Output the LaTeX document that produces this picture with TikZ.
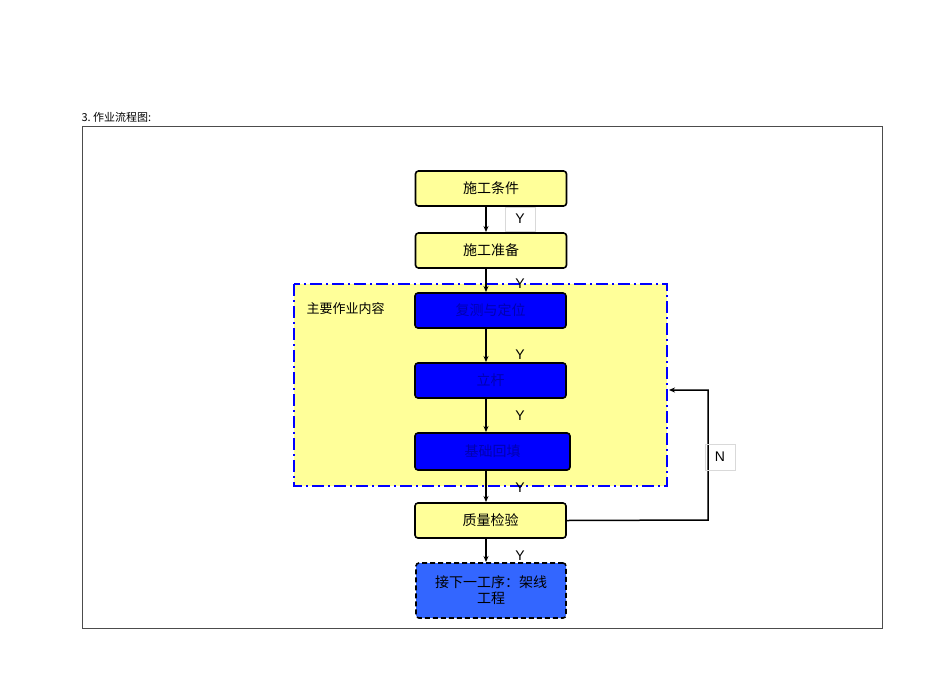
\documentclass[tikz,border=0pt]{standalone}
\usepackage{fontspec}
\setmainfont{Liberation Sans}
\newfontfamily\cjk{Noto Sans CJK SC}
\usetikzlibrary{arrows.meta}
\definecolor{ylw}{HTML}{FFFF99}
\definecolor{bl}{HTML}{0000FF}
\definecolor{bltx}{HTML}{0000B0}
\definecolor{lb}{HTML}{3366FF}
\begin{document}
\begin{tikzpicture}[x=1pt,y=-1pt,
  box/.style={draw=black,line width=1.6pt,rounded corners=3pt,minimum width=151pt,minimum height=35pt,inner sep=0pt,font=\cjk\fontsize{14}{16}\selectfont},
  yb/.style={box,fill=ylw},
  bb/.style={box,fill=bl,text=bltx},
  arr/.style={line width=1.5pt,-{Stealth[length=6pt,width=5pt]}},
  lab/.style={font=\fontsize{14}{16}\selectfont}]
\useasboundingbox (0,0) rectangle (950,672);
\node[anchor=west,font=\cjk\fontsize{11}{13}\selectfont] (title) at (78,117) {3.\ 作业流程图:};
\draw[line width=0.6pt,draw=black!70] (82,126) rectangle (882,628);
\draw[draw=bl,fill=ylw,line width=1.8pt,dash pattern=on 12pt off 4pt on 2pt off 4pt] (294,284) rectangle (667,486);
\node[anchor=west,font=\cjk\fontsize{13}{15}\selectfont] (main) at (303,309) {主要作业内容};
\node[yb] (a) at (491,188.5) {施工条件};
\node[yb] (b) at (491,250.5) {施工准备};
\node[bb] (c) at (490.5,310.5) {复测与定位};
\node[bb] (d) at (490.5,380.5) {立杆};
\node[bb,minimum width=155pt,minimum height=37pt] (e) at (492.5,451.5) {基础回填};
\node[yb] (f) at (490.5,520.5) {质量检验};
\node[box,fill=lb,dashed,dash pattern=on 5pt off 3pt,minimum width=150pt,minimum height=55pt,align=center] (g) at (491,590.5) {接下一工序：架线\\工程};
\draw[arr] (486,206) -- (486,232);
\draw[arr] (486,268) -- (486,292);
\draw[arr] (486,328) -- (486,362);
\draw[arr] (486,398) -- (486,432);
\draw[arr] (486,470) -- (486,502);
\draw[arr] (486,538) -- (486,562);
\coordinate (p1) at (708,520);
\coordinate (p2) at (708,390);
\coordinate (p3) at (669,390);
\draw[arr] (f.east) -- (p1) -- (p2) -- (p3);
\node[lab,draw=black!15,line width=0.4pt,minimum width=30pt,minimum height=24pt] (y1) at (520,219) {Y};
\node[lab] (y2) at (520,284) {Y};
\node[lab] (y3) at (520,355) {Y};
\node[lab] (y4) at (520,416) {Y};
\node[lab] (y5) at (520,488) {Y};
\node[lab] (y6) at (520,556) {Y};
\node[lab,draw=black!15,line width=0.4pt,minimum width=30pt,minimum height=26pt] (n) at (720,457) {N};
\end{tikzpicture}
\end{document}
